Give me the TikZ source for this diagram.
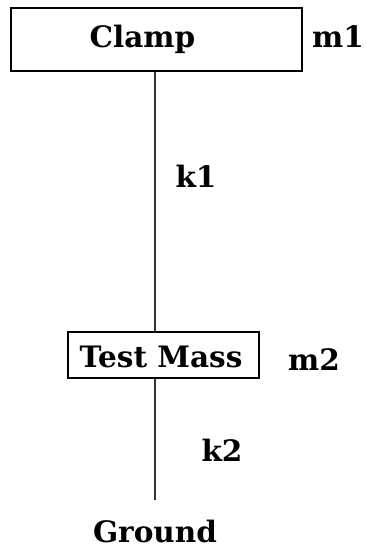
\documentclass[tikz,border=0pt]{standalone}
\usepackage{fontspec}
\setmainfont{DejaVu Serif}
\begin{document}
\begin{tikzpicture}[x=1pt, y=-1pt,
  box/.style={rectangle, draw, line width=1.3pt, inner sep=0pt},
  lbl/.style={anchor=base, inner sep=0pt, font=\fontsize{29.5}{34}\selectfont\bfseries},
  spring/.style={line width=1.5pt, black!80},
]
\useasboundingbox (0,0) rectangle (367,552);
\node[box, minimum width=291pt, minimum height=63pt] (clamp) at (156.5,39.5) {};
\node[box, minimum width=191pt, minimum height=46pt] (mass)  at (163.5,355)  {};
\node[lbl] (clampT) at (142.5,47)  {Clamp};
\node[lbl] (massT)  at (161,367)   {Test Mass};
\node[lbl] (m1)     at (338,47)    {m1};
\node[lbl] (m2)     at (314,370)   {m2};
\node[lbl] (k1)     at (196,187)   {k1};
\node[lbl] (k2)     at (222,461)   {k2};
\node[lbl] (ground) at (155,542)   {Ground};
\coordinate (gnd) at (155,500);
\draw[spring] (clamp.south -| gnd) -- (mass.north -| gnd);
\draw[spring] (mass.south -| gnd) -- (gnd);
\end{tikzpicture}
\end{document}
